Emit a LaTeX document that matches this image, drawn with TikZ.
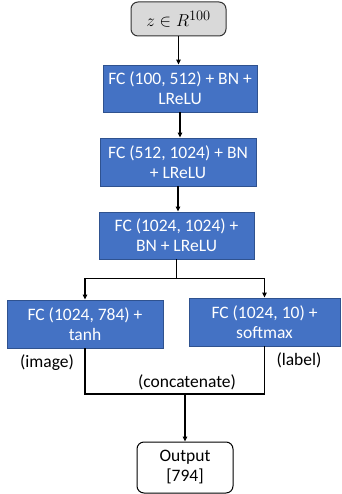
\documentclass[tikz,border=0pt]{standalone}
\usepackage{fontspec}
\setmainfont{Carlito}
\usepackage{tikz}
\usetikzlibrary{
  positioning,
  arrows.meta
}

\definecolor{fcblue}{HTML}{4472C4}
\definecolor{fcedge}{HTML}{2F528F}
\definecolor{ingray}{HTML}{D9D9D9}

\tikzset{
  layer/.style={draw=fcedge, line width=0.9pt, fill=fcblue, text=white, align=center,
    font=\fontsize{17.5}{20}\selectfont, inner sep=0pt},
  endbox/.style={draw=black, line width=1pt, rounded corners=7pt, align=center,
    font=\fontsize{17.5}{20}\selectfont, inner sep=0pt},
  tag/.style={font=\fontsize{17.5}{18}\selectfont, inner sep=0pt},
  arrow/.style={-{Triangle[length=5pt,width=4.5pt]}, line width=1.1pt},
  wire/.style={line width=1.1pt}
}

\begin{document}
\begin{tikzpicture}[x=1pt,y=-1pt]
  \useasboundingbox (0,0) rectangle (341,494);

  % input noise and the hidden layers
  \node[endbox, fill=ingray, draw=black!80, minimum width=95pt, minimum height=34pt,
    font=\fontsize{19}{20}\selectfont]
    (z) at (178.5,19) {$z \in R^{100}$};
  \node[layer, minimum width=154pt, minimum height=47pt] (fc1) at (180,88.5)
    {FC (100, 512) + BN +\\LReLU};
  \node[layer, minimum width=156pt, minimum height=48pt] (fc2) at (178,162)
    {FC (512, 1024) + BN\\+ LReLU};
  \node[layer, minimum width=155pt, minimum height=47pt] (fc3) at (176.5,235.5)
    {FC (1024, 1024) +\\BN + LReLU};

  % two output heads
  \node[layer, minimum width=156pt, minimum height=48pt] (img) at (85,324)
    {FC (1024, 784) +\\tanh};
  \node[layer, minimum width=151pt, minimum height=48pt] (lab) at (264.5,322)
    {FC (1024, 10) +\\softmax};

  \node[endbox, fill=white, minimum width=96pt, minimum height=51pt]
    (out) at (185,467.5) {Output\\{[}794{]}};

  \node[tag] (imgtag) at (47,363) {(image)};
  \node[tag] (labtag) at (299,360) {(label)};
  \node[tag] (cattag) at (187,382) {(concatenate)};

  \draw[arrow] (z) -- (z |- fc1.north);
  \draw[arrow] (fc1) -- (fc1.south |- fc2.north);
  \draw[arrow] (fc2) -- (fc2.south |- fc3.north);

  \draw[wire] (fc3.south) -- ++(0,19) coordinate (split);
  \draw[arrow] (split) -| (img.north);
  \draw[arrow] (split) -| (lab.north);

  \coordinate (join) at (185,394);
  \draw[wire] (img.south) |- (join);
  \draw[wire] (lab.south) |- (join);
  \draw[arrow] (join) -- (out.north);
\end{tikzpicture}
\end{document}
